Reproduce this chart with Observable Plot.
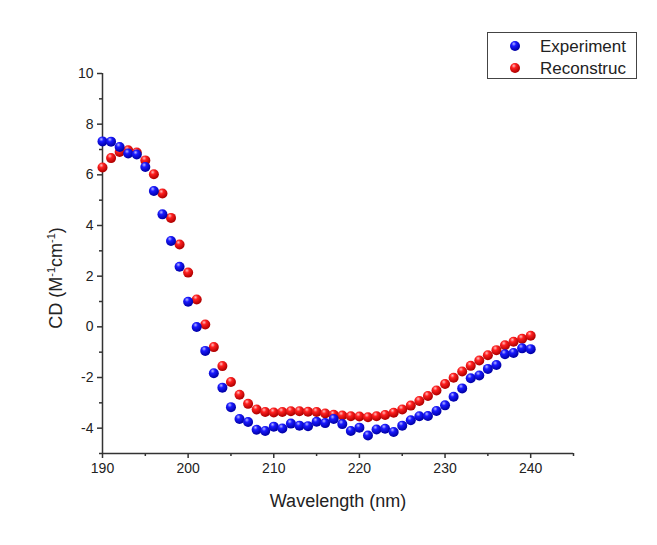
<!DOCTYPE html>
<html><head><meta charset="utf-8">
<script src="https://cdn.jsdelivr.net/npm/d3@7"></script>
<script src="https://cdn.jsdelivr.net/npm/@observablehq/plot@0.6"></script>
<style>
html,body{margin:0;padding:0;background:#fff;}
#chart{position:relative;width:657px;height:545px;font-family:"Liberation Sans",Arial,sans-serif;}
</style>
</head><body><div id="chart"></div>
<script>
const wavelength = d3.range(190, 241);
const experiment = [7.32, 7.31, 7.1, 6.84, 6.8, 6.31, 5.36, 4.44, 3.39, 2.37,
  0.99, -0.01, -0.95, -1.83, -2.4, -3.17, -3.64, -3.76, -4.06, -4.11,
  -3.94, -4.01, -3.82, -3.9, -3.92, -3.75, -3.8, -3.64, -3.84, -4.11,
  -3.98, -4.29, -4.05, -4.02, -4.15, -3.9, -3.69, -3.53, -3.52, -3.32,
  -3.1, -2.76, -2.43, -2.03, -1.92, -1.66, -1.51, -1.08, -1.03, -0.85, -0.88];
const reconstruc = [6.29, 6.66, 6.9, 6.97, 6.88, 6.57, 6.02, 5.26, 4.3, 3.25,
  2.14, 1.08, 0.09, -0.8, -1.55, -2.18, -2.68, -3.04, -3.26, -3.36,
  -3.38, -3.36, -3.33, -3.33, -3.35, -3.36, -3.42, -3.47, -3.5, -3.53,
  -3.54, -3.57, -3.53, -3.48, -3.39, -3.26, -3.11, -2.93, -2.73, -2.51,
  -2.26, -2.01, -1.76, -1.54, -1.33, -1.12, -0.92, -0.73, -0.59, -0.47, -0.35];
const xMajor = [190, 200, 210, 220, 230, 240];
const xMinor = [195, 205, 215, 225, 235, 245];
const yMajor = [-4, -2, 0, 2, 4, 6, 8, 10];
const yMinor = [-5, -3, -1, 1, 3, 5, 7, 9];
const seriesNames = ["Experiment", "Reconstruc"];

const expData = wavelength.map((w, i) => ({w, v: experiment[i]}));
const recData = wavelength.map((w, i) => ({w, v: reconstruc[i]}));

const plot = Plot.plot({
  width: 657, height: 545,
  marginLeft: 102, marginRight: 84, marginTop: 73, marginBottom: 92,
  style: {fontFamily: "Liberation Sans, Arial, sans-serif", background: "transparent", color: "#222"},
  x: {domain: [190, 245], axis: null},
  y: {domain: [-5, 10], axis: null},
  marks: [
    Plot.axisX({ticks: xMajor, tickSize: 5, tickPadding: 5, fontSize: 14, tickFormat: d => String(d), label: null, stroke: "#333", strokeWidth: 1.5}),
    Plot.axisX({ticks: xMinor, tickSize: 3, tickFormat: () => "", label: null, stroke: "#333", strokeWidth: 1.5}),
    Plot.axisY({ticks: yMajor, tickSize: 5, tickPadding: 4, fontSize: 14, tickFormat: d => String(d), label: null, stroke: "#333", strokeWidth: 1.5}),
    Plot.axisY({ticks: yMinor, tickSize: 3, tickFormat: () => "", label: null, stroke: "#333", strokeWidth: 1.5}),
    Plot.ruleY([-5], {stroke: "#333", strokeWidth: 1.5}),
    Plot.ruleX([190], {stroke: "#333", strokeWidth: 1.5}),
    Plot.dot(recData, {x: "w", y: "v", r: 5, fill: "url(#gradRed)", stroke: "none"}),
    Plot.dot(expData, {x: "w", y: "v", r: 5, fill: "url(#gradBlue)", stroke: "none"})
  ]
});
document.getElementById("chart").appendChild(plot);

const svg = d3.select(plot);
const defs = svg.insert("defs", ":first-child");
function grad(id, light, mid, dark) {
  const g = defs.append("radialGradient").attr("id", id).attr("cx", "38%").attr("cy", "32%").attr("r", "65%").attr("fx", "38%").attr("fy", "28%");
  g.append("stop").attr("offset", "0%").attr("stop-color", light);
  g.append("stop").attr("offset", "35%").attr("stop-color", mid);
  g.append("stop").attr("offset", "100%").attr("stop-color", dark);
}
grad("gradBlue", "#b8b8ff", "#1a1aff", "#0000a8");
grad("gradRed", "#ffc0c0", "#ff2020", "#b00000");

const ff = "Liberation Sans, Arial, sans-serif";
// x axis title
svg.append("text").attr("x", 338).attr("y", 507).attr("text-anchor", "middle")
  .attr("font-size", 18).attr("fill", "#222").attr("font-family", ff).text("Wavelength (nm)");

// y axis title
const yt = svg.append("text").attr("transform", "translate(62,278) rotate(-90)")
  .attr("text-anchor", "middle").attr("font-size", 18).attr("fill", "#222")
  .attr("font-family", ff);
yt.append("tspan").text("CD (M");
yt.append("tspan").attr("font-size", 11).attr("dy", -7).text("-1");
yt.append("tspan").attr("dy", 7).text("cm");
yt.append("tspan").attr("font-size", 11).attr("dy", -7).text("-1");
yt.append("tspan").attr("dy", 7).text(")");

// legend
const lg = svg.append("g").attr("font-family", ff).attr("text-anchor", "start");
lg.append("rect").attr("x", 487.5).attr("y", 32.5).attr("width", 149).attr("height", 46)
  .attr("fill", "#fff").attr("stroke", "#444").attr("stroke-width", 1);
[["gradBlue", 46], ["gradRed", 68]].forEach(([g, y], i) => {
  lg.append("circle").attr("cx", 515).attr("cy", y).attr("r", 5).attr("fill", `url(#${g})`);
  lg.append("text").attr("x", 540).attr("y", y + 6).attr("font-size", 17).attr("fill", "#222")
    .attr("text-anchor", "start").text(seriesNames[i]);
});
</script>
</body></html>
